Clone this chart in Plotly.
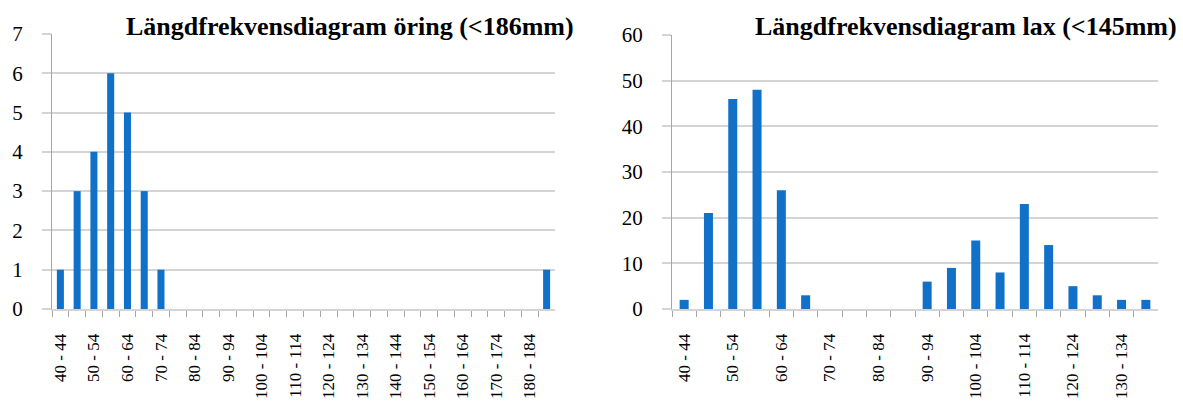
import plotly.graph_objects as go

# ---- data ----
trout_bins = [f"{s} - {s + 4}" for s in range(40, 190, 5)]  # 40-44 ... 185-189
trout_counts = [1, 3, 4, 6, 5, 3, 1, 0, 0, 0,
                0, 0, 0, 0, 0, 0, 0, 0, 0, 0,
                0, 0, 0, 0, 0, 0, 0, 0, 0, 1]
salmon_bins = [f"{s} - {s + 4}" for s in range(40, 140, 5)]  # 40-44 ... 135-139
salmon_counts = [2, 21, 46, 48, 26, 3, 0, 0, 0, 0,
                 6, 9, 15, 8, 23, 14, 5, 3, 2, 2]
trout_title = "Längdfrekvensdiagram öring (<186mm)"
salmon_title = "Längdfrekvensdiagram lax (<145mm)"

BAR = "#1170c8"
GRID = "#d4d4d4"
AXIS = "#a6a6a6"
SERIF = "Liberation Serif, Times New Roman, serif"
W, H = 1183, 410

fig = go.Figure()
fig.add_trace(go.Bar(x=trout_bins, y=trout_counts, marker_color=BAR,
                     marker_line_width=0, xaxis="x", yaxis="y", width=0.42))
fig.add_trace(go.Bar(x=salmon_bins, y=salmon_counts, marker_color=BAR,
                     marker_line_width=0, xaxis="x2", yaxis="y2", width=0.37))

def xax(domain, anchor, cats):
    return dict(domain=domain, anchor=anchor, type="category",
                categoryorder="array", categoryarray=cats,
                tickmode="array", tickvals=cats,
                ticktext=[c if i % 2 == 0 else "" for i, c in enumerate(cats)],
                tickson="boundaries", ticks="outside", ticklen=6,
                tickcolor=AXIS, tickangle=-90, showgrid=False,
                showline=True, linecolor=GRID, linewidth=2,
                tickfont=dict(family=SERIF, size=17, color="#000"),
                ticklabelstandoff=16, range=[-0.5, len(cats) - 0.5],
                automargin=False)

def yax(domain, anchor, rng, dt):
    return dict(domain=domain, anchor=anchor, range=rng, dtick=dt,
                showgrid=True, gridcolor=GRID, gridwidth=2,
                showline=True, linecolor=AXIS, linewidth=1,
                ticks="outside", ticklen=9, tickcolor=GRID, tickwidth=2,
                zeroline=False,
                tickfont=dict(family=SERIF, size=21, color="#000"),
                ticklabelstandoff=15, automargin=False)

fig.update_layout(
    width=W, height=H,
    margin=dict(l=0, r=0, t=0, b=0),
    paper_bgcolor="white", plot_bgcolor="white",
    showlegend=False, bargap=0.6,
    xaxis=xax([52 / W, 555 / W], "y", trout_bins),
    yaxis=yax([(H - 309) / H, (H - 34) / H], "x", [0, 7], 1),
    xaxis2=xax([672 / W, 1158 / W], "y2", salmon_bins),
    yaxis2=yax([(H - 309) / H, (H - 35) / H], "x2", [0, 60], 10),
    annotations=[
        dict(text=f"<b>{trout_title}</b>", xref="paper", yref="paper",
             x=576 / W, y=1 - 26 / H, xanchor="right", yanchor="middle",
             showarrow=False, font=dict(family=SERIF, size=26, color="#000")),
        dict(text=f"<b>{salmon_title}</b>", xref="paper", yref="paper",
             x=1179 / W, y=1 - 26 / H, xanchor="right", yanchor="middle",
             showarrow=False, font=dict(family=SERIF, size=26, color="#000")),
    ],
)

fig.write_html(
    "out.html",
    config={"displayModeBar": False},
    post_script="document.body.style.margin='0';document.body.style.overflow='hidden';",
)
